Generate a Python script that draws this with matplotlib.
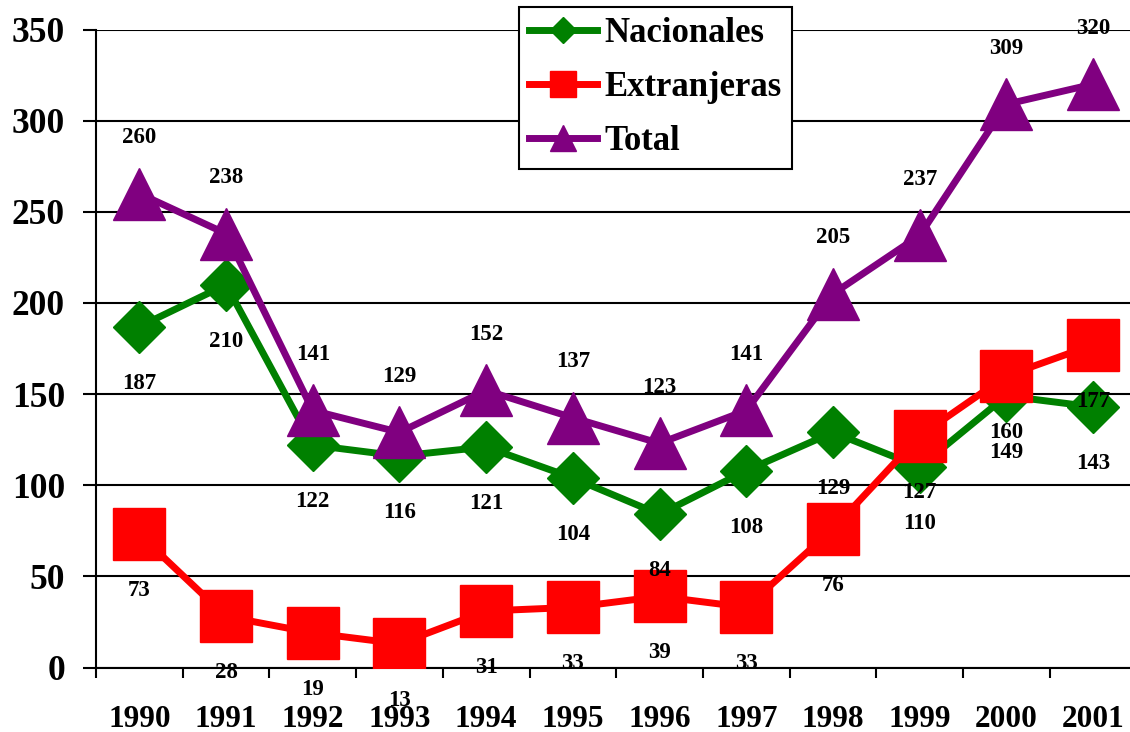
import matplotlib
matplotlib.use("Agg")
import matplotlib.pyplot as plt
import numpy as np

# Data
years = ["1990", "1991", "1992", "1993", "1994", "1995",
         "1996", "1997", "1998", "1999", "2000", "2001"]
nacionales = [187, 210, 122, 116, 121, 104, 84, 108, 129, 110, 149, 143]
extranjeras = [73, 28, 19, 13, 31, 33, 39, 33, 76, 127, 160, 177]
total = [260, 238, 141, 129, 152, 137, 123, 141, 205, 237, 309, 320]

plt.rcParams["font.family"] = ["Liberation Serif", "DejaVu Serif"]
plt.rcParams["font.weight"] = "bold"

W, H = 1130, 732
fig = plt.figure(figsize=(W / 100, H / 100), dpi=100)
ax = fig.add_axes([96 / W, 1 - 667.5 / H, 1040.4 / W, 638 / H])

x = np.arange(len(years))

# (values, label, colour, marker, marker size, label offset in points)
series = [
    (nacionales, "Nacionales", "#008000", "D", 26.5, -39),
    (extranjeras, "Extranjeras", "#FF0000", "s", 38, -39),
    (total, "Total", "#800080", "^", 38, 42),
]

digit_half = 0.676 * 16.5 / 2
for i, (vals, name, color, marker, ms, dy) in enumerate(series):
    ax.plot(x, vals, color=color, lw=5, marker=marker, ms=ms,
            mec=color, mfc=color, label=name, zorder=3 + i)
    for xi, v in zip(x, vals):
        ax.annotate(str(v), (xi, v), xytext=(0, dy - digit_half),
                    textcoords="offset points", ha="center", va="baseline",
                    fontsize=16.5, fontweight="bold", color="black",
                    zorder=10, annotation_clip=False)

ax.set_xlim(-0.5, 11.5)
ax.set_ylim(0, 350)
ax.set_yticks(np.arange(0, 351, 50))
ax.set_xticks(x)
ax.set_xticklabels(years)
ax.set_xticks(np.arange(-0.5, 12, 1), minor=True)

ax.yaxis.grid(True, color="black", lw=1.5)
ax.set_axisbelow(True)

for side in ("top", "right"):
    ax.spines[side].set_visible(False)
for side in ("left", "bottom"):
    ax.spines[side].set_linewidth(1.5)
    ax.spines[side].set_color("black")

ax.tick_params(axis="y", which="major", length=9.4, width=1.5,
               direction="out", pad=13, labelsize=25.5, colors="black")
ax.tick_params(axis="x", which="major", length=0, pad=27, labelsize=22.5)
ax.tick_params(axis="x", which="minor", length=7.2, width=1.5,
               direction="out", colors="black")

leg = ax.legend(loc="upper left", bbox_to_anchor=(519 / W, 1 - 7 / H),
                bbox_transform=fig.transFigure, borderaxespad=0,
                prop={"weight": "bold", "size": 25}, markerscale=0.5,
                handlelength=1.95, handletextpad=0.2, borderpad=0.3,
                labelspacing=0.6, fancybox=False, framealpha=1,
                edgecolor="black")
leg.get_frame().set_linewidth(1.5)
leg.set_zorder(20)

fig.savefig("out.png", dpi=100)
